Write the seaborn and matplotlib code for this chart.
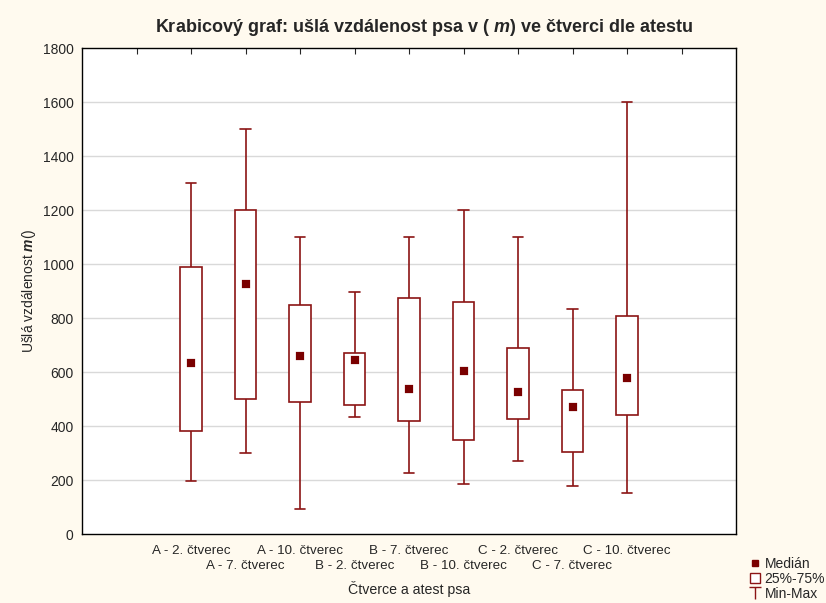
import matplotlib
matplotlib.use("Agg")
import matplotlib.pyplot as plt
import seaborn as sns
import numpy as np
import pandas as pd
from matplotlib.lines import Line2D
from matplotlib.patches import Patch
from matplotlib.path import Path

# five-number summaries (metres)
groups = ["A - 2. čtverec", "A - 7. čtverec", "A - 10. čtverec",
          "B - 2. čtverec", "B - 7. čtverec", "B - 10. čtverec",
          "C - 2. čtverec", "C - 7. čtverec", "C - 10. čtverec"]
mins = [197, 300, 93, 433, 225, 185, 270, 178, 152]
q1 = [382, 500, 490, 478, 420, 348, 426, 304, 441]
medians = [632, 925, 659, 646, 538, 604, 526, 470, 578]
q3 = [990, 1200, 848, 670, 875, 859, 688, 532, 807]
maxs = [1300, 1500, 1100, 896, 1100, 1200, 1100, 833, 1600]
yticks = [0, 200, 400, 600, 800, 1000, 1200, 1400, 1600, 1800]

RED = "#8b1414"
MED = "#7a0000"
BG = "#fffaef"

sns.set_style("white")
plt.rcParams["font.family"] = ["Liberation Sans", "DejaVu Sans"]
plt.rcParams["mathtext.fontset"] = "custom"
plt.rcParams["mathtext.it"] = "Liberation Sans:italic:bold"
plt.rcParams["mathtext.rm"] = "Liberation Sans"

df = pd.DataFrame({
    "group": np.repeat(groups, 5),
    "value": np.column_stack([mins, q1, medians, q3, maxs]).ravel(),
})
med_df = pd.DataFrame({"group": groups, "value": medians})

fig = plt.figure(figsize=(8.26, 6.03), dpi=100, facecolor=BG)
ax = fig.add_axes([82 / 826, 69 / 603, 654 / 826, 486 / 603])
ax.set_facecolor("white")

for v in yticks[1:-1]:
    ax.axhline(v, color="#d9d9d9", lw=1, zorder=0)

sns.boxplot(data=df, x="group", y="value", order=groups, whis=(0, 100),
            width=0.4, color="white", linecolor=RED, linewidth=1.2,
            medianprops={"visible": False}, showfliers=False, ax=ax, zorder=2)

sns.pointplot(data=med_df, x="group", y="value", order=groups, errorbar=None,
              linestyle="none", marker="s", markersize=4.8, color=MED,
              markeredgewidth=1.6, ax=ax, zorder=5)

ax.set_xlim(-2, 10)
ax.set_ylim(0, 1800)
ax.set_yticks(yticks)

# staggered category labels: even ones as major ticks, odd ones as minor ticks
n = len(groups)
major_pos = [-1] + list(range(0, n, 2)) + [n]
major_lab = [""] + [groups[i] for i in range(0, n, 2)] + [""]
minor_pos = list(range(1, n, 2))
ax.set_xticks(major_pos)
ax.set_xticklabels(major_lab)
ax.set_xticks(minor_pos, minor=True)
ax.set_xticklabels([groups[i] for i in minor_pos], minor=True)
ax.tick_params(axis="x", which="both", direction="in", length=4, top=True,
               labelsize=9.6, width=0.8)
ax.tick_params(axis="x", which="major", pad=8)
ax.tick_params(axis="x", which="minor", pad=19)
ax.tick_params(axis="y", length=0, pad=6, labelsize=10)
for s in ax.spines.values():
    s.set_color("black")
    s.set_linewidth(1)
    s.set_visible(True)

ax.set_xlabel("Čtverce a atest psa", fontsize=10.2, labelpad=6)
ax.set_ylabel(r"Ušlá vzdálenost $\mathit{m}$()", fontsize=10, labelpad=3)

fig.text(424 / 826, 1 - 28 / 603,
         r"Krabicový graf: ušlá vzdálenost psa v ( $\mathit{m}$) ve čtverci dle atestu",
         ha="center", va="center", fontsize=13, fontweight="bold")

tee = Path([(-1, 1), (1, 1), (0, 1), (0, -1)],
           [Path.MOVETO, Path.LINETO, Path.MOVETO, Path.LINETO])
handles = [
    Line2D([], [], ls="none", marker="s", markersize=5, color=MED),
    Patch(facecolor="white", edgecolor=RED, lw=1),
    Line2D([], [], ls="none", marker=tee, markersize=9, color=RED, mew=1),
]
fig.legend(handles, ["Medián", "25%-75%", "Min-Max"], loc="lower left",
           bbox_to_anchor=(750 / 826, 0.004), frameon=False, fontsize=10,
           handlelength=0.7, handleheight=0.8, handletextpad=0.35,
           labelspacing=0.05, borderpad=0, borderaxespad=0)

fig.savefig("out.png", dpi=100, facecolor=BG)
